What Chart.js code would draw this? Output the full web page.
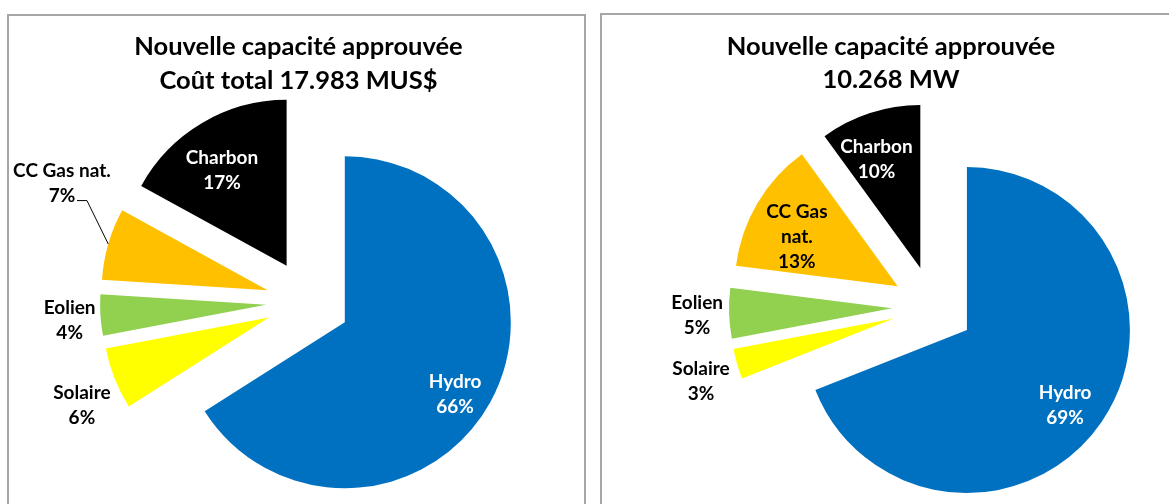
<!DOCTYPE html>
<html><head><meta charset="utf-8">
<script src="https://cdn.jsdelivr.net/npm/chart.js@4.4.1/dist/chart.umd.min.js"></script>
<style>
html,body{margin:0;padding:0;width:1169px;height:504px;overflow:hidden;background:#fff;}
.box{position:absolute;border:2px solid #a6a6a6;overflow:hidden;}
#b1{left:7px;top:14px;width:575px;height:520px;}
#b2{left:600px;top:13px;width:620px;height:530px;}
canvas{position:absolute;left:0;top:0;}
</style></head><body>
<div class="box" id="b1"><canvas id="c1" width="575" height="520"></canvas></div>
<div class="box" id="b2"><canvas id="c2" width="578" height="530"></canvas></div>
<script>
// ---- data ----
const categories = ['Hydro', 'Solaire', 'Eolien', 'CC Gas nat.', 'Charbon'];
const costShares = [66, 6, 4, 7, 17];          // % of total cost
const capacityShares = [69, 3, 5, 13, 10];     // % of total MW
const costTitle = ['Nouvelle capacité approuvée', 'Coût total 17.983 MUS$'];
const capacityTitle = ['Nouvelle capacité approuvée', '10.268 MW'];

// ---- style ----
const sliceColors = ['#0070C0', '#FFFF00', '#92D050', '#FFC000', '#000000'];
const labelColors = ['#FFFFFF', '#000000', '#000000', '#000000', '#FFFFFF'];
const FONT = 'Lato, "Open Sans", sans-serif';

const explodePlugin = {
  id: 'explode',
  afterDatasetsUpdate(chart, args, opts) {
    const d = opts.distance || 0;
    chart.getDatasetMeta(0).data.forEach(arc => {
      const mid = (arc.startAngle + arc.endAngle) / 2;
      arc.x += Math.cos(mid) * d;
      arc.y += Math.sin(mid) * d;
    });
  }
};

const sliceLabelPlugin = {
  id: 'sliceLabels',
  afterDatasetsDraw(chart, args, opts) {
    const ctx = chart.ctx;
    const ca = chart.chartArea;
    const cx = (ca.left + ca.right) / 2, cy = (ca.top + ca.bottom) / 2;
    const values = chart.data.datasets[0].data;
    const T = chart.options.plugins.explode.distance || 0;
    ctx.save();
    ctx.font = `bold ${opts.size}px ${FONT}`;
    ctx.textAlign = 'center';
    ctx.textBaseline = 'middle';
    chart.getDatasetMeta(0).data.forEach((arc, i) => {
      const p = opts.place[i];
      const mid = (arc.startAngle + arc.endAngle) / 2;
      const R = arc.outerRadius;
      const a = mid + p.da * Math.PI / 180;
      const lx = cx + Math.cos(a) * p.k * R;
      const ly = cy + Math.sin(a) * p.k * R;
      const name = chart.data.labels[i];
      let lines = p.wrap ? [name.slice(0, name.lastIndexOf(' ')), name.slice(name.lastIndexOf(' ') + 1)] : [name];
      lines = lines.concat([values[i] + '%']);
      const lh = opts.lineHeight;
      const y0 = ly - (lines.length - 1) * lh / 2;
      ctx.fillStyle = labelColors[i];
      lines.forEach((t, j) => ctx.fillText(t, lx, y0 + j * lh));
      if (p.leader) {
        const sx = cx + Math.cos(mid) * (T + R), sy = cy + Math.sin(mid) * (T + R);
        ctx.beginPath();
        ctx.strokeStyle = '#000';
        ctx.lineWidth = 1;
        ctx.moveTo(sx, sy);
        ctx.lineTo(lx + 25, ly + 17);
        ctx.lineTo(lx + 15, ly + 17);
        ctx.stroke();
      }
    });
    ctx.restore();
  }
};

const titlePlugin = {
  id: 'panelTitle',
  afterDraw(chart, args, opts) {
    const ctx = chart.ctx;
    ctx.save();
    ctx.font = `bold ${opts.size}px ${FONT}`;
    ctx.fillStyle = '#000';
    ctx.textAlign = 'center';
    ctx.textBaseline = 'middle';
    opts.lines.forEach((t, i) => ctx.fillText(t, chart.width / 2 + opts.dx, opts.top + i * opts.lineHeight));
    ctx.restore();
  }
};

function makePie(id, values, title, cfg) {
  return new Chart(document.getElementById(id), {
    type: 'pie',
    data: {
      labels: categories,
      datasets: [{ data: values, backgroundColor: sliceColors, borderWidth: 0, radius: cfg.radius }]
    },
    options: {
      responsive: false,
      devicePixelRatio: 1,
      animation: false,
      events: [],
      layout: { padding: cfg.padding },
      plugins: {
        legend: { display: false },
        tooltip: { enabled: false },
        explode: { distance: cfg.explode },
        sliceLabels: { size: 19, lineHeight: 25, place: cfg.place },
        panelTitle: { lines: title, size: 25.5, top: cfg.titleTop, lineHeight: cfg.titleLH, dx: cfg.titleDx }
      }
    },
    plugins: [explodePlugin, sliceLabelPlugin, titlePlugin]
  });
}

makePie('c1', costShares, costTitle, {
  radius: 166, explode: 42,
  padding: { left: 23, top: 52, right: 0, bottom: 0 },
  titleTop: 31, titleLH: 34, titleDx: 2,
  place: [
    { k: 1.045, da: 3.2 },
    { k: 1.498, da: -3 },
    { k: 1.44, da: -0.8 },
    { k: 1.645, da: 9.5, leader: true },
    { k: 0.946, da: -2.6 }
  ]
});

makePie('c2', capacityShares, capacityTitle, {
  radius: 163, explode: 41,
  padding: { left: 84, top: 54, right: 0, bottom: 0 },
  titleTop: 32, titleLH: 33, titleDx: 0,
  place: [
    { k: 1.009, da: 2.4 },
    { k: 1.495, da: -1.6 },
    { k: 1.448, da: -0.2 },
    { k: 0.939, da: -3.4, wrap: true },
    { k: 0.972, da: -2.9 }
  ]
});
</script>
</body></html>
